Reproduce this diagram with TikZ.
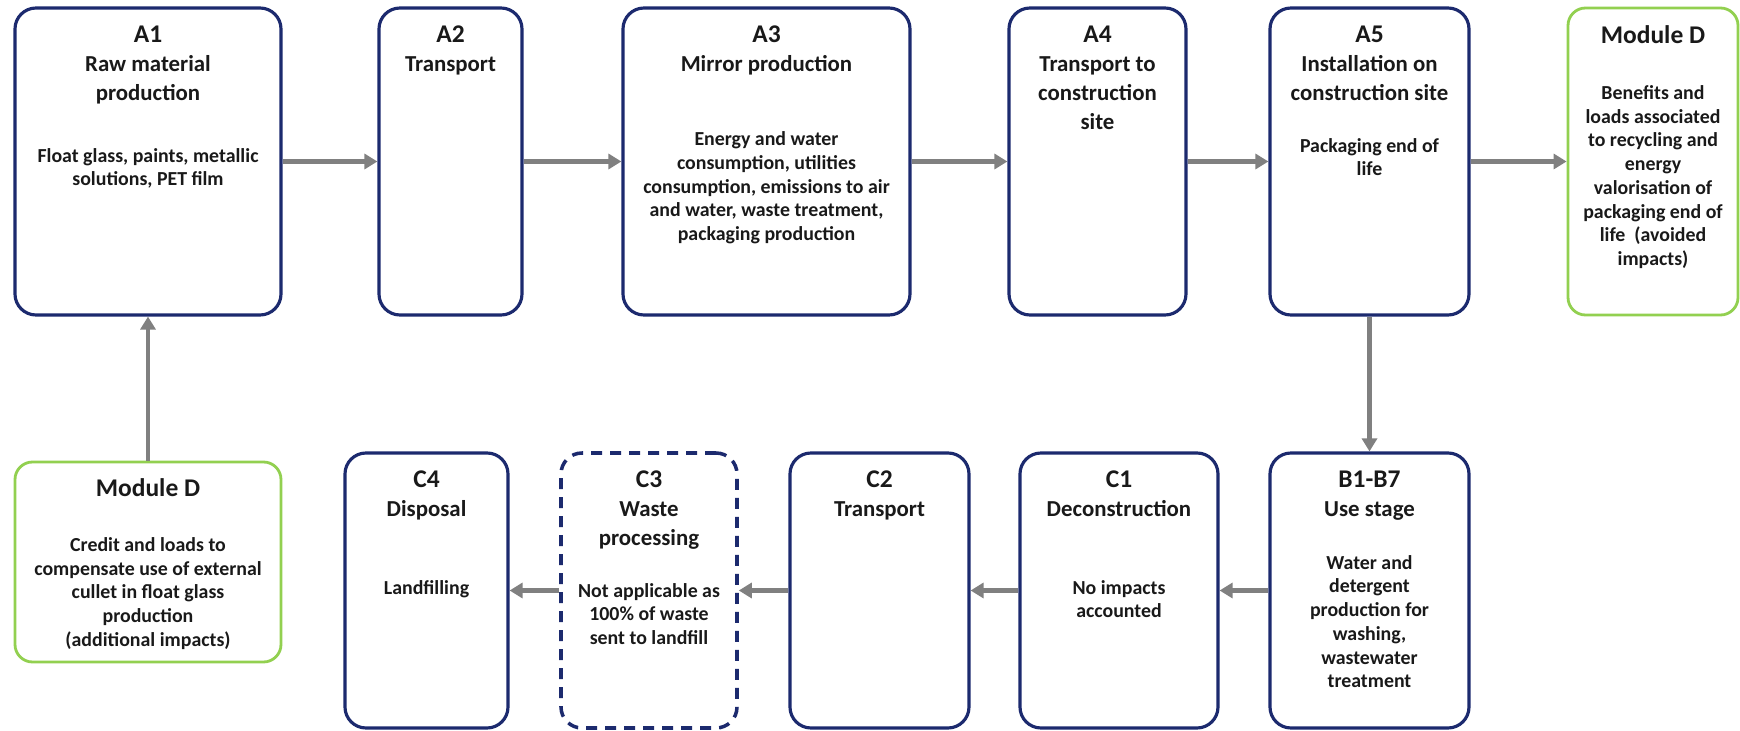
\documentclass[tikz,border=0pt]{standalone}
\usepackage{fontspec}
\setmainfont{Carlito}
\usetikzlibrary{arrows.meta}
\definecolor{bleufonce}{RGB}{28,42,110}
\definecolor{vertclair}{RGB}{146,208,80}
\definecolor{grisfleche}{RGB}{128,128,128}
\definecolor{texte}{RGB}{25,25,25}
\newcommand{\titrebloc}[1]{{\fontsize{14.5}{16.6}\selectfont #1}}
\tikzset{
  boite/.style={draw=bleufonce, line width=1.8pt, rounded corners=0.42cm, inner sep=0pt, minimum height=6.14cm},
  boitebas/.style={boite, minimum height=5.5cm},
  boiteverte/.style={draw=vertclair, line width=1.6pt, rounded corners=0.35cm, inner sep=0pt},
  titre/.style={anchor=north, align=center, inner sep=0pt, text=texte, font=\bfseries\fontsize{13}{16.6}\selectfont},
  corps/.style={anchor=north, align=center, inner sep=0pt, text=texte, font=\bfseries\fontsize{11.3}{13.5}\selectfont},
  fleche/.style={draw=grisfleche, line width=2.7pt, -{Triangle[length=0.26cm,width=0.3cm]}}
}
\begin{document}
\begin{tikzpicture}
\useasboundingbox (0,0) rectangle (34.8,14.6);
% ligne du haut
\node[boite, minimum width=5.32cm] (a1) at (2.96,11.37) {};
\node[titre] (a1t) at ([yshift=-0.38cm]a1.north) {\titrebloc{A1}\\Raw material\\production};
\node[corps] (a1c) at ([yshift=-2.83cm]a1.north) {Float glass, paints, metallic\\solutions, PET film};
\node[boite, minimum width=2.86cm] (a2) at (9.01,11.37) {};
\node[titre] (a2t) at ([yshift=-0.38cm]a2.north) {\titrebloc{A2}\\Transport};
\node[boite, minimum width=5.74cm] (a3) at (15.33,11.37) {};
\node[titre] (a3t) at ([yshift=-0.38cm]a3.north) {\titrebloc{A3}\\Mirror production};
\node[corps] (a3c) at ([yshift=-2.5cm]a3.north) {Energy and water\\consumption, utilities\\consumption, emissions to air\\and water, waste treatment,\\packaging production};
\node[boite, minimum width=3.54cm] (a4) at (21.95,11.37) {};
\node[titre] (a4t) at ([yshift=-0.38cm]a4.north) {\titrebloc{A4}\\Transport to\\construction\\site};
\node[boite, minimum width=3.98cm] (a5) at (27.39,11.37) {};
\node[titre] (a5t) at ([yshift=-0.38cm]a5.north) {\titrebloc{A5}\\Installation on\\construction site};
\node[corps] (a5c) at ([yshift=-2.63cm]a5.north) {Packaging end of\\life};
\node[boiteverte, minimum width=3.40cm, minimum height=6.14cm] (modd) at (33.06,11.37) {};
\node[titre] (moddt) at ([yshift=-0.38cm]modd.north) {\titrebloc{Module D}};
\node[corps] (moddc) at ([yshift=-1.57cm]modd.north) {Benefits and\\loads associated\\to recycling and\\energy\\valorisation of\\packaging end of\\life\ \ (avoided\\impacts)};
% ligne du bas
\node[boiteverte, minimum width=5.32cm, minimum height=4cm] (modd2) at (2.96,3.36) {};
\node[titre] (modd2t) at ([yshift=-0.36cm]modd2.north) {\titrebloc{Module D}};
\node[corps] (modd2c) at ([yshift=-1.53cm]modd2.north) {Credit and loads to\\compensate use of external\\cullet in float glass\\production\\(additional impacts)};
\node[boitebas, minimum width=3.26cm] (c4) at (8.53,2.79) {};
\node[titre] (c4t) at ([yshift=-0.38cm]c4.north) {\titrebloc{C4}\\Disposal};
\node[corps] (c4c) at ([yshift=-2.57cm]c4.north) {Landfilling};
\node[boitebas, minimum width=3.52cm, line width=2pt, dash pattern=on 0.22cm off 0.16cm] (c3) at (12.98,2.79) {};
\node[titre] (c3t) at ([yshift=-0.38cm]c3.north) {\titrebloc{C3}\\Waste\\processing};
\node[corps] (c3c) at ([yshift=-2.63cm]c3.north) {Not applicable as\\100\% of waste\\sent to landfill};
\node[boitebas, minimum width=3.58cm] (c2) at (17.59,2.79) {};
\node[titre] (c2t) at ([yshift=-0.38cm]c2.north) {\titrebloc{C2}\\Transport};
\node[boitebas, minimum width=3.96cm] (c1) at (22.38,2.79) {};
\node[titre] (c1t) at ([yshift=-0.38cm]c1.north) {\titrebloc{C1}\\Deconstruction};
\node[corps] (c1c) at ([yshift=-2.57cm]c1.north) {No impacts\\accounted};
\node[boitebas, minimum width=3.98cm] (b17) at (27.39,2.79) {};
\node[titre] (b17t) at ([yshift=-0.38cm]b17.north) {\titrebloc{B1-B7}\\Use stage};
\node[corps] (b17c) at ([yshift=-2.07cm]b17.north) {Water and\\detergent\\production for\\washing,\\wastewater\\treatment};
% fleches
\draw[fleche] (a1) -- (a2);
\draw[fleche] (a2) -- (a3);
\draw[fleche] (a3) -- (a4);
\draw[fleche] (a4) -- (a5);
\draw[fleche] (a5) -- (modd);
\draw[fleche] (a5) -- (b17);
\draw[fleche] (b17) -- (c1);
\draw[fleche] (c1) -- (c2);
\draw[fleche] (c2) -- (c3);
\draw[fleche] (c3) -- (c4);
\draw[fleche] (modd2) -- (a1);%meme abscisse
\end{tikzpicture}
\end{document}
